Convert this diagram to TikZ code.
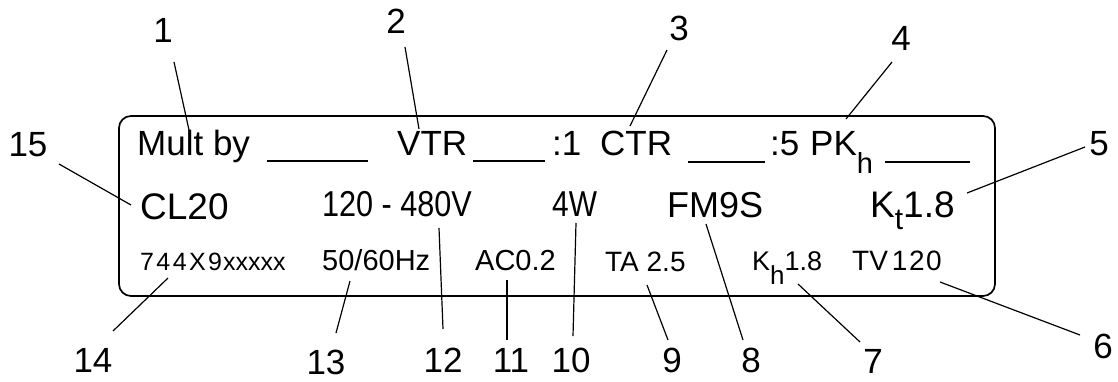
\documentclass[tikz,border=0pt]{standalone}
\usepackage{fontspec}
\setmainfont{Liberation Sans}
\newcommand{\fs}[1]{\fontsize{#1}{#1}\selectfont}
\begin{document}
\begin{tikzpicture}[x=1pt,y=-1pt,
  lbl/.style={font=\fs{35}, inner sep=0pt, anchor=center},
  txt/.style={inner sep=0pt, anchor=base west},
  leader/.style={line width=1.2pt},
  uline/.style={line width=1.6pt},
  frame/.style={line width=1.7pt, rounded corners=12pt}]
\useasboundingbox (0,0) rectangle (1118,381);
% plate
\draw[frame] (119,116) rectangle (995,296);
% row 1
\node[txt, font=\fs{35}] (mult) at (137,155) {Mult by};
\draw[uline] (267,161) -- (368,161);
\node[txt, font=\fs{35}] (vtr) at (397,155) {VTR};
\draw[uline] (473,161) -- (545,161);
\node[txt, font=\fs{35}] (one) at (552,155) {:1};
\node[txt, font=\fs{35}] (ctr) at (600,155) {CTR};
\draw[uline] (688,162) -- (765,162);
\node[txt, font=\fs{35}] (five) at (770,155) {:5};
\node[txt, font=\fs{35}] (pkh) at (810,155) {PK\raisebox{-18pt}{\fs{29}h}};
\draw[uline] (885,162) -- (970,162);
% row 2
\node[txt, font=\fs{37}] (cl) at (140,219) {CL20};
\node[txt, font=\fs{36}, xscale=0.85] (volt) at (322,216) {120 - 480V};
\node[txt, font=\fs{36}, xscale=0.83] (w) at (552,216) {4W};
\node[txt, font=\fs{36}] (fm) at (667,217) {FM9S};
\node[txt, font=\fs{37}] (kt) at (870,217) {K\raisebox{-12pt}{\fs{30}t}1.8};
% row 3
\node[txt, font=\fs{25}] (cat) at (140,270) {7\kern2.4pt4\kern2.4pt4\kern2.4ptX\kern2.4pt9\kern1pt xxxxx};
\node[txt, font=\fs{29}] (hz) at (322,270) {50/60Hz};
\node[txt, font=\fs{29}] (ac) at (475,270) {AC0.2};
\node[txt, font=\fs{28}] (ta) at (605,271) {TA 2.5};
\node[txt, font=\fs{27}] (kh) at (752,270) {K\raisebox{-14pt}{\fs{26}h}1.8};
\node[txt, font=\fs{28}] (tv) at (852,270) {TV\kern4pt 1\kern1.5pt2\kern1.5pt0};
% callout numbers
\node[lbl] (n1) at (163,30) {1};
\node[lbl] (n2) at (396,21) {2};
\node[lbl] (n3) at (679,28) {3};
\node[lbl] (n4) at (901,38) {4};
\node[lbl] (n5) at (1099,144) {5};
\node[lbl] (n6) at (1103,346) {6};
\node[lbl] (n7) at (873,361) {7};
\node[lbl] (n8) at (751,360) {8};
\node[lbl] (n9) at (672,360) {9};
\node[lbl] (n10) at (571,360) {10};
\node[lbl] (n11) at (511,360) {11};
\node[lbl] (n12) at (443,360) {12};
\node[lbl] (n13) at (326,362) {13};
\node[lbl] (n14) at (93,360) {14};
\node[lbl] (n15) at (28,145) {15};
% leader end points
\coordinate (s1) at (174,62);   \coordinate (e1) at (189,130);
\coordinate (s2) at (405,47);   \coordinate (e2) at (419,129);
\coordinate (s3) at (667,50);   \coordinate (e3) at (630,126);
\coordinate (s4) at (892,62);   \coordinate (e4) at (846,119);
\coordinate (s5) at (1085,147); \coordinate (e5) at (967,193);
\coordinate (s6) at (1080,335); \coordinate (e6) at (940,282);
\coordinate (s7) at (860,342);  \coordinate (e7) at (798,284);
\coordinate (s8) at (743,340);  \coordinate (e8) at (706,224);
\coordinate (s9) at (668,340);  \coordinate (e9) at (647,285);
\coordinate (s10) at (573,336); \coordinate (e10) at (576,223);
\coordinate (s11) at (507,340); \coordinate (e11) at (507,280);
\coordinate (s12) at (443,329); \coordinate (e12) at (439,228);
\coordinate (s13) at (336,333); \coordinate (e13) at (350,281);
\coordinate (s14) at (113,331); \coordinate (e14) at (168,278);
\coordinate (s15) at (59,164);  \coordinate (e15) at (131,205);
\foreach \i in {1,...,15} { \draw[leader] (s\i) -- (e\i); }
\end{tikzpicture}
\end{document}
